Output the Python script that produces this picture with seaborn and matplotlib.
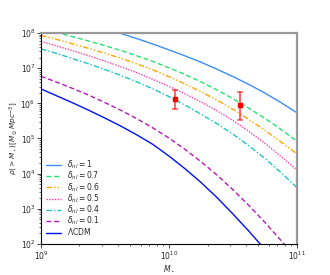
import numpy as np
import pandas as pd
import seaborn as sns
import matplotlib
matplotlib.use("Agg")
import matplotlib.pyplot as plt

# log10(M_star) sample points
log_mass = [9.0, 9.125, 9.25, 9.375, 9.5, 9.625, 9.75, 9.875, 10.0,
            10.125, 10.25, 10.375, 10.5, 10.625, 10.75, 10.875, 11.0]

# log10 of cumulative density for each model
dnl_1 = [8.59, 8.48, 8.37, 8.25, 8.12, 7.985, 7.84, 7.685, 7.52,
         7.35, 7.17, 6.97, 6.76, 6.535, 6.29, 6.02, 5.73]
dnl_07 = [8.13, 8.015, 7.895, 7.77, 7.64, 7.50, 7.35, 7.19, 7.01,
          6.82, 6.61, 6.38, 6.13, 5.86, 5.57, 5.26, 4.92]
dnl_06 = [7.93, 7.815, 7.69, 7.56, 7.425, 7.28, 7.12, 6.95, 6.76,
          6.55, 6.33, 6.09, 5.83, 5.54, 5.23, 4.90, 4.56]
dnl_05 = [7.76, 7.63, 7.495, 7.35, 7.20, 7.04, 6.87, 6.68, 6.48,
          6.27, 6.04, 5.79, 5.51, 5.20, 4.86, 4.49, 4.10]
dnl_04 = [7.55, 7.415, 7.27, 7.12, 6.96, 6.79, 6.61, 6.41, 6.19,
          5.95, 5.69, 5.42, 5.12, 4.79, 4.43, 4.03, 3.60]
dnl_01 = [6.77, 6.60, 6.42, 6.23, 6.02, 5.80, 5.56, 5.30, 5.01,
          4.69, 4.34, 3.96, 3.54, 3.09, 2.61, 2.10, 1.57]
lcdm = [6.41, 6.21, 6.01, 5.80, 5.58, 5.35, 5.10, 4.83, 4.50,
        4.14, 3.75, 3.32, 2.85, 2.36, 1.84, 1.29, 0.70]

# observed points with asymmetric errors
obs_mass = [1.12e10, 3.57e10]
obs_rho = [1.3e6, 9.2e5]
obs_hi = [2.4e6, 2.16e6]
obs_lo = [6.9e5, 3.4e5]

models = [
    (r"$\delta_{nl}=1$", dnl_1, "#3b8ff0", "-"),
    (r"$\delta_{nl}=0.7$", dnl_07, "#22e36f", (0, (3.5, 2))),
    (r"$\delta_{nl}=0.6$", dnl_06, "#ffa500", (0, (4, 1.5, 1, 1.5, 1, 1.5))),
    (r"$\delta_{nl}=0.5$", dnl_05, "#ff3fa6", (0, (1, 1))),
    (r"$\delta_{nl}=0.4$", dnl_04, "#1cc6c6", (0, (4, 1.5, 1, 1.5))),
    (r"$\delta_{nl}=0.1$", dnl_01, "#b818b8", (0, (3.5, 2))),
    (r"$\Lambda$CDM", lcdm, "#0011ee", "-"),
]

sns.set_style("ticks")
plt.rcParams["font.family"] = ["DejaVu Sans"]
plt.rcParams["mathtext.fontset"] = "dejavusans"

fig = plt.figure(figsize=(3.3, 2.75), dpi=100)
ax = fig.add_axes([0.124, 0.113, 0.776, 0.767])

mass = [10 ** v for v in log_mass]
for label, vals, color, ls in models:
    df = pd.DataFrame({"m": mass, "rho": [10 ** v for v in vals]})
    sns.lineplot(data=df, x="m", y="rho", ax=ax, color=color, linestyle=ls,
                 linewidth=1.0, label=label)

yerr = [np.array(obs_rho) - np.array(obs_lo), np.array(obs_hi) - np.array(obs_rho)]
ax.errorbar(obs_mass, obs_rho, yerr=yerr, fmt="none", ecolor="red", alpha=0.6,
            elinewidth=1.5, capsize=2.5, capthick=1.2, zorder=5)
ax.scatter(obs_mass, obs_rho, color="red", s=6, marker="s", zorder=6)

ax.set_xscale("log")
ax.set_yscale("log")
ax.set_xlim(1e9, 1e11)
ax.set_ylim(1e2, 1e8)
ax.set_xlabel(r"$M_\star$", fontsize=5.5, labelpad=0.6)
ax.set_ylabel(r"$\rho(>M_\star)[M_\odot Mpc^{-3}]$", fontsize=5.2, labelpad=0.0)
ax.tick_params(axis="both", which="major", labelsize=5.5, length=3, width=0.6, pad=1.0)
ax.tick_params(axis="both", which="minor", length=1.6, width=0.5)

for side in ["left", "bottom"]:
    ax.spines[side].set_color("black")
    ax.spines[side].set_linewidth(0.8)
for side in ["top", "right"]:
    ax.spines[side].set_color("#999999")
    ax.spines[side].set_linewidth(1.6)

ax.legend(loc="lower left", bbox_to_anchor=(0.0, 0.01), frameon=False,
          fontsize=5.5, handlelength=2.0, handletextpad=0.8,
          labelspacing=-0.16, borderaxespad=0.2)

fig.savefig("out.png", dpi=100)
